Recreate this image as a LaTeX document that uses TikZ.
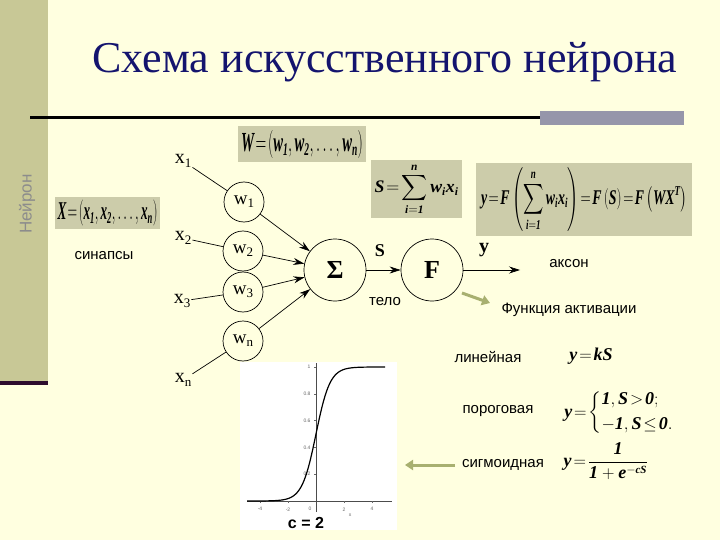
\documentclass[tikz,border=0pt]{standalone}
\usepackage{exscale}
\usepackage{graphicx}
\usepackage{fontspec}
\setmainfont{Liberation Serif}
\setsansfont{Liberation Sans}
\usetikzlibrary{arrows.meta}
\newcommand{\bi}[1]{\mbox{\bfseries\itshape #1}}
\newcommand{\bs}[1]{\mbox{\fontsize{11}{11}\selectfont\bfseries\itshape #1}}
\newcommand{\lsub}[1]{\raisebox{-0.35ex}{\fontsize{13}{13}\selectfont #1}}
\definecolor{bg}{RGB}{255,255,224}
\definecolor{side}{RGB}{200,200,150}
\definecolor{sideline}{RGB}{45,12,45}
\definecolor{boxfill}{RGB}{204,204,170}
\definecolor{navy}{RGB}{20,20,110}
\definecolor{greenarr}{RGB}{168,176,112}
\definecolor{greybar}{RGB}{150,150,170}
\tikzset{
  wc/.style={circle, draw, line width=0.7pt, minimum size=40pt, inner sep=0pt, font=\fontsize{19}{19}\selectfont},
  bigc/.style={circle, draw, line width=0.7pt, minimum size=62pt, inner sep=0pt, font=\fontsize{26}{26}\selectfont\bfseries},
  xl/.style={inner sep=1pt, font=\fontsize{20}{20}\selectfont},
  sl/.style={font=\sffamily\fontsize{15}{15}\selectfont},
  formbox/.style={fill=boxfill, inner sep=0pt, font=\fontsize{17}{17}\selectfont},
  ln/.style={line width=0.7pt},
  arr/.style={line width=0.7pt, -{Stealth[length=11pt,width=7pt]}},
  garr/.style={line width=3pt, greenarr, -{Triangle[length=8pt,width=10pt]}},
  tk/.style={font=\sffamily\fontsize{5}{5}\selectfont, text=black!60}
}
\begin{document}
\begin{tikzpicture}[x=1pt,y=-1pt]
\fill[bg] (0,0) rectangle (720,540);
\useasboundingbox (0,0) rectangle (720,540);
\fill[side] (0,0) rectangle (48,381);
\fill[sideline] (0,381) rectangle (48,385);
\node[rotate=90, font=\sffamily\fontsize{17}{17}\selectfont, text=black!45] (sidet) at (27,204) {Нейрон};
\node[font=\fontsize{44}{50}\selectfont, text=navy] (title) at (385,62) {Схема искусственного нейрона};
\draw[line width=3pt] (30,118) -- (540,118);
\fill[greybar] (540,111) rectangle (684,125);
\node[formbox, minimum width=128pt, minimum height=36pt] (Wbox) at (302,144) {\resizebox*{122pt}{28pt}{$\bi{W}\!=\!\left(\bi{w}_{\bs{1}},\bi{w}_{\bs{2}},\ldots,\bi{w}_{\bs{n}}\right)$}};
\node[formbox, minimum width=105pt, minimum height=32pt] (Xbox) at (107.5,213) {\resizebox*{100pt}{26pt}{$\bi{X}\!=\!\left(\bi{x}_{\bs{1}},\bi{x}_{\bs{2}},\ldots,\bi{x}_{\bs{n}}\right)$}};
\node[formbox, minimum width=91pt, minimum height=58pt] (Sbox) at (416.5,189) {\resizebox*{84pt}{52pt}{$\displaystyle\bi{S}\!=\!\sum_{\bs{i}=\bs{1}}^{\bs{n}}\bi{w}_{\bs{i}}\bi{x}_{\bs{i}}$}};
\node[formbox, minimum width=216pt, minimum height=73pt] (ybox) at (584,199.5) {\resizebox*{206pt}{64pt}{$\displaystyle\bi{y}\!=\!\bi{F}\left(\sum_{\bs{i}=\bs{1}}^{\bs{n}}\bi{w}_{\bs{i}}\bi{x}_{\bs{i}}\right)\!=\!\bi{F}\left(\bi{S}\right)\!=\!\bi{F}\left(\bi{W}\bi{X}^{\bs{T}}\right)$}};
\node[wc] (w1) at (244,202) {w\lsub{1}};
\node[wc] (w2) at (243,251) {w\lsub{2}};
\node[wc] (w3) at (243,292) {w\lsub{3}};
\node[wc] (wn) at (243,341) {w\lsub{n}};
\node[bigc] (sig) at (335,270) {Σ};
\node[bigc] (F) at (432,270) {F};
\node[xl] (x1) at (183,161) {x\lsub{1}};
\node[xl] (x2) at (183,238) {x\lsub{2}};
\node[xl] (x3) at (182,301) {x\lsub{3}};
\node[xl] (xn) at (183,380) {x\lsub{n}};
\draw[ln] (x1) -- (w1);
\draw[ln] (x2) -- (w2);
\draw[ln] (x3) -- (w3);
\draw[ln] (xn) -- (wn);
\draw[arr] (w1) -- (sig);
\draw[arr] (w2) -- (sig);
\draw[arr] (w3) -- (sig);
\draw[arr] (wn) -- (sig);
\draw[arr] (sig) -- (F);
\coordinate (yend) at (520,270);
\draw[arr] (F) -- (yend);
\node[font=\fontsize{18}{18}\selectfont\bfseries] (Slab) at (380,251) {S};
\node[font=\fontsize{20}{20}\selectfont\bfseries] (ylab) at (484,250) {y};
\node[sl] (syn) at (104,256) {синапсы};
\node[sl] (telo) at (385,302) {тело};
\node[sl] (akson) at (569,264) {аксон};
\node[sl] (fa) at (569,310) {Функция активации};
\node[sl] (lin) at (488,357) {линейная};
\node[sl] (por) at (498,411) {пороговая};
\node[sl] (sigm) at (503,465) {сигмоидная};
\coordinate (ga1) at (462,293);
\coordinate (ga2) at (490,303);
\draw[garr] (ga1) -- (ga2);
\coordinate (ga3) at (455,465);
\coordinate (ga4) at (405,465);
\draw[garr] (ga3) -- (ga4);
\node[font=\fontsize{18}{18}\selectfont] (flin) at (591,356) {$\bi{y}\!=\!\bi{kS}$};
\node[font=\fontsize{18}{18}\selectfont] (fpor) at (619,413) {$\bi{y}\!=\!\left\{\begin{array}{@{}l@{}}\bi{1},\bi{S}\!>\!\bi{0};\\[7pt]-\bi{1},\bi{S}\!\leq\!\bi{0}.\end{array}\right.$};
\node[font=\fontsize{18}{18}\selectfont] (fsig) at (606,461) {$\displaystyle\bi{y}\!=\!\frac{\bi{1}}{\bi{1}+\bi{e}^{-\bs{cS}}}$};
\node[fill=white, minimum width=157pt, minimum height=168pt, inner sep=0pt] (plot) at (318.5,446) {};
\draw[line width=0.5pt, black!70] (247,501) -- (392,501);
\draw[line width=0.5pt, black!70] (316,363) -- (316,512);
\foreach \v in {0.2,0.4,0.6,0.8,1} {
  \draw[line width=0.3pt, black!60] (314,{501-134*\v}) -- (316,{501-134*\v});
  \node[tk, anchor=east] at (314,{501-134*\v}) {\v};
}
\foreach \u in {-4,-2,2,4} {
  \draw[line width=0.3pt, black!60] ({316+14*\u},501) -- ({316+14*\u},503);
  \node[tk, anchor=north] at ({316+14*\u},504) {\u};
}
\node[tk, anchor=north east] (zero) at (315,503) {0};
\node[tk] (xax) at (350,515) {x};
\draw[line width=1.2pt] (247,501) -- plot[domain=-4.4:4.4, samples=120, smooth] ({316+14*\x},{501-134/(1+exp(-2*\x))}) -- (385,367);
\node[font=\sffamily\bfseries\fontsize{16}{16}\selectfont] (c2) at (306,523) {c = 2};
\end{tikzpicture}
\end{document}
